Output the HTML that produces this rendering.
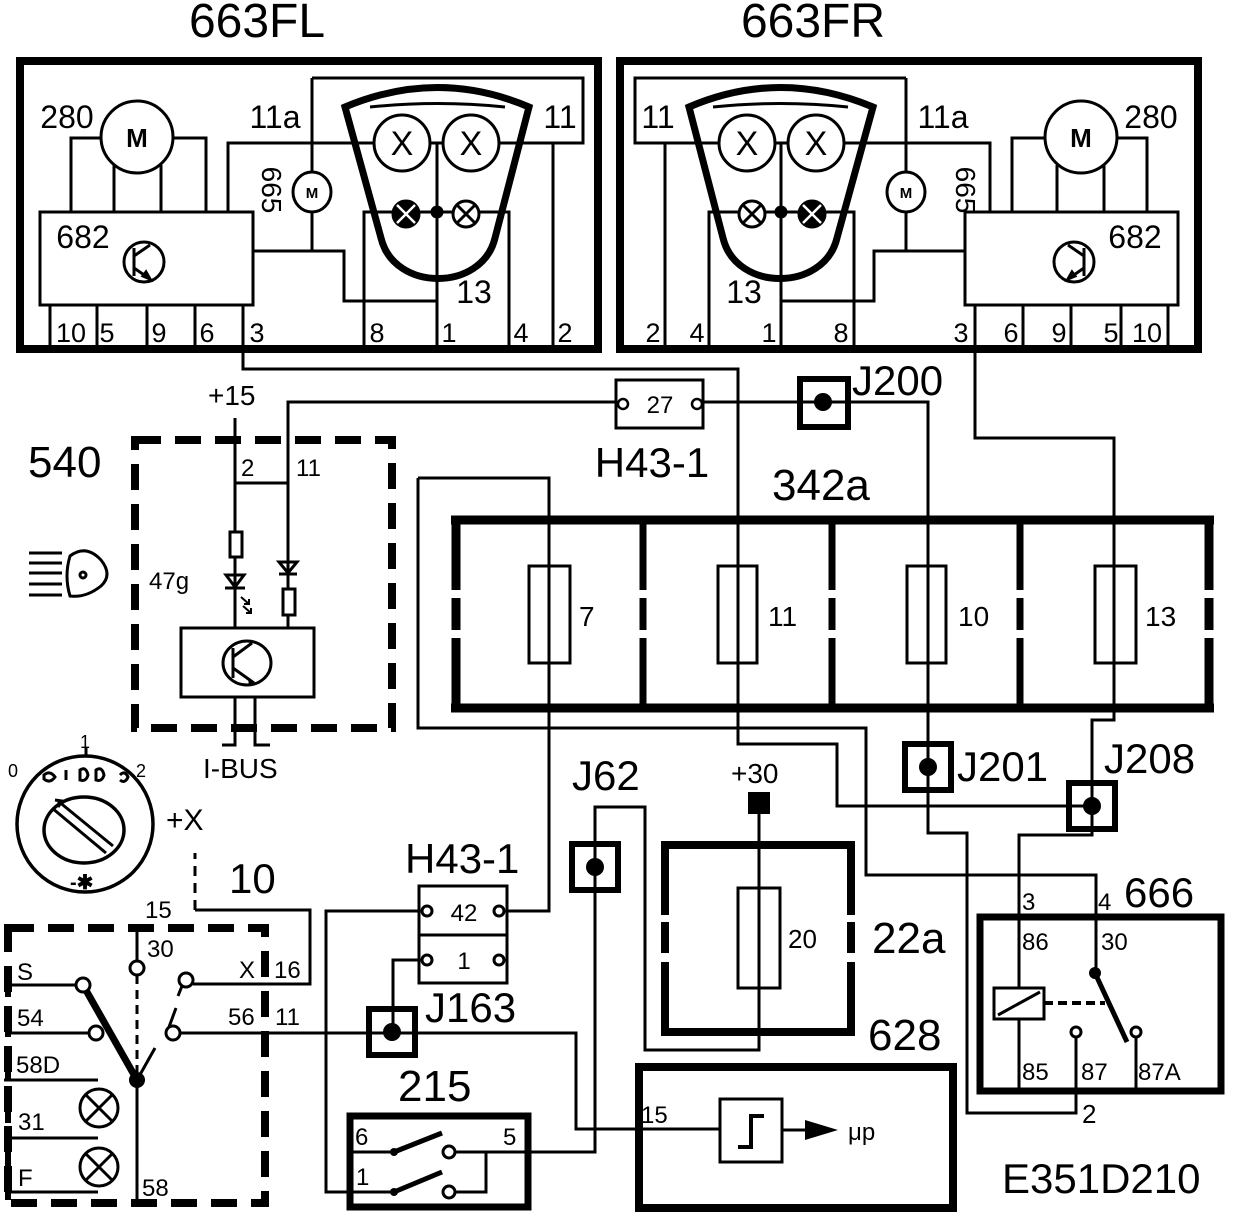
<!DOCTYPE html>
<html><head><meta charset="utf-8"><style>
html,body{margin:0;padding:0;background:#fff;}
svg{display:block;}
text{font-family:"Liberation Sans",Arial,sans-serif;fill:#000;}
</style></head><body>
<svg width="1248" height="1220" viewBox="0 0 1248 1220" xmlns="http://www.w3.org/2000/svg">
<defs>
<g id="fl" fill="none" stroke="#000" stroke-width="3">
  <rect x="20" y="61" width="578" height="288" stroke-width="8"/>
  <path d="M101,138H71V212M173,138H206V212M114,165V212M161,165V212"/>
  <circle cx="137" cy="137" r="36" fill="#fff"/>
  <rect x="40" y="212" width="213" height="93" fill="#fff"/>
  <circle cx="144" cy="262" r="20"/>
  <path d="M134,248V276M134,256L150,245M134,268L150,279"/>
  <path d="M143,276L150,279L146,272Z" fill="#000"/>
  <path d="M50,305V349M97,305V349M147,305V349M195,305V349M243,305V349"/>
  <path d="M312,78H583V143H519M312,78V172M312,212V251M253,251H344V301H437M228,212V143H560M437,143V349M553,143V349"/>
  <ellipse cx="312" cy="192" rx="19" ry="20" fill="#fff"/>
  <path d="M364,349V212H509V349"/>
  <path d="M345,107Q438,68 529,107L495,238C482,292 394,292 381,238Z" stroke-width="7"/>
  <path d="M370,107Q438,100 505,107"/>
  <circle cx="402" cy="143" r="28" fill="#fff"/>
  <circle cx="471" cy="143" r="28" fill="#fff"/>
  <circle cx="406" cy="214" r="13" fill="#000"/>
  <path d="M397,205L415,223M415,205L397,223" stroke="#fff" stroke-width="2.5"/>
  <circle cx="466" cy="214" r="13" fill="#fff"/>
  <path d="M457,205L475,223M475,205L457,223"/>
  <circle cx="437" cy="212" r="5" fill="#000"/>
</g>
</defs>

<use href="#fl"/>
<use href="#fl" transform="translate(1218,0) scale(-1,1)"/>

<!-- FL/FR texts -->
<g font-size="48" text-anchor="middle">
<text x="257" y="37">663FL</text><text x="813" y="37">663FR</text>
</g>
<g font-size="32" text-anchor="middle">
<text x="67" y="128">280</text><text x="1151" y="128">280</text>
<text x="275" y="128">11a</text><text x="943" y="128">11a</text>
<text x="560" y="128">11</text><text x="658" y="128">11</text>
<text x="83" y="248">682</text><text x="1135" y="248">682</text>
<text x="474" y="303">13</text><text x="744" y="303">13</text>
</g>
<g font-size="26" text-anchor="middle" font-weight="bold">
<text x="137" y="147">M</text><text x="1081" y="147">M</text>
</g>
<g font-size="15" text-anchor="middle" font-weight="bold">
<text x="312" y="198">M</text><text x="906" y="198">M</text>
</g>
<g font-size="34" text-anchor="middle">
<text x="402" y="155">X</text><text x="471" y="155">X</text>
<text x="816" y="155">X</text><text x="747" y="155">X</text>
</g>
<text font-size="28" text-anchor="middle" transform="translate(262,190) rotate(90)">665</text>
<text font-size="28" text-anchor="middle" transform="translate(956,190) rotate(90)">665</text>
<g font-size="27" text-anchor="middle">
<text x="71" y="342">10</text><text x="107" y="342">5</text><text x="159" y="342">9</text><text x="207" y="342">6</text><text x="257" y="342">3</text>
<text x="377" y="342">8</text><text x="449" y="342">1</text><text x="521" y="342">4</text><text x="565" y="342">2</text>
<text x="1147" y="342">10</text><text x="1111" y="342">5</text><text x="1059" y="342">9</text><text x="1011" y="342">6</text><text x="961" y="342">3</text>
<text x="841" y="342">8</text><text x="769" y="342">1</text><text x="697" y="342">4</text><text x="653" y="342">2</text>
</g>

<!-- wires -->
<g fill="none" stroke="#000" stroke-width="3">
<path d="M243,349V369H738V744H837V806H1092"/>
<path d="M975,349V438H1114V720H1092V835H1019V988M1019,1019V1091"/>
<path d="M235,418V628M288,628V402H928V833H967V1113H1076V1037"/>
<path d="M235,483H288"/>
<path d="M418,478H549V911H504"/>
<path d="M418,478V728H866V875H1096V973"/>
<path d="M759,814V1050H645V807H595V1152H455"/>
<path d="M180,1033H576V1129H720"/>
<path d="M422,911H326V1192H394"/>
<path d="M422,960H393V1032"/>
<path d="M193,984H310V910H195"/>
<path d="M195,910V853" stroke-dasharray="10,7"/>
</g>

<!-- H43-1 27 -->
<rect x="616" y="380" width="87" height="48" fill="#fff" stroke="#000" stroke-width="3"/>
<circle cx="623" cy="404" r="5" fill="#fff" stroke="#000" stroke-width="2.5"/>
<circle cx="697" cy="404" r="5" fill="#fff" stroke="#000" stroke-width="2.5"/>
<text x="660" y="413" font-size="24" text-anchor="middle">27</text>
<text x="652" y="477" font-size="42" text-anchor="middle">H43-1</text>

<!-- J boxes -->
<g fill="none" stroke="#000" stroke-width="6">
<rect x="800" y="379" width="48" height="48"/>
<rect x="905" y="744" width="46" height="46"/>
<rect x="1069" y="783" width="46" height="46"/>
<rect x="572" y="844" width="46" height="46"/>
<rect x="369" y="1009" width="46" height="46"/>
</g>
<g fill="#000">
<circle cx="823" cy="402" r="9"/><circle cx="928" cy="767" r="9"/><circle cx="1092" cy="806" r="9"/>
<circle cx="595" cy="867" r="9"/><circle cx="392" cy="1032" r="9"/>
</g>
<g font-size="42">
<text x="852" y="395">J200</text><text x="957" y="781">J201</text><text x="1104" y="773">J208</text>
<text x="572" y="790">J62</text><text x="425" y="1022">J163</text>
</g>

<!-- 342a fuse box -->
<text x="772" y="500" font-size="44">342a</text>
<g fill="none" stroke="#000">
<path d="M451,520H1214M451,708H1214" stroke-width="9"/>
<path d="M456,516V590M456,598V630M456,638V712M1209,516V590M1209,598V630M1209,638V712" stroke-width="9"/>
<path d="M643,516V590M643,598V630M643,638V712M832,516V590M832,598V630M832,638V712M1020,516V590M1020,598V630M1020,638V712" stroke-width="7"/>
<g stroke-width="3">
<rect x="529" y="566" width="41" height="97"/><rect x="718" y="566" width="39" height="97"/>
<rect x="907" y="566" width="39" height="97"/><rect x="1095" y="566" width="41" height="97"/>
</g>
</g>
<g font-size="28"><text x="579" y="626">7</text><text x="768" y="626">11</text><text x="958" y="626">10</text><text x="1145" y="626">13</text></g>

<!-- 540 -->
<text x="28" y="477" font-size="44">540</text>
<rect x="135" y="440" width="257" height="288" fill="none" stroke="#000" stroke-width="8" stroke-dasharray="26,14"/>
<text x="208" y="405" font-size="28">+15</text>
<g font-size="24"><text x="241" y="476">2</text><text x="296" y="476">11</text><text x="149" y="589">47g</text></g>
<g fill="none" stroke="#000" stroke-width="3">
<rect x="230" y="532" width="12" height="25" fill="#fff"/>
<path d="M226,575H244L235,587ZM225,588H245" />
<path d="M241,597L249,604M244,604L249,604L249,599M243,606L251,613M246,613L251,613L251,608" stroke-width="2"/>
<path d="M279,562H297L288,573ZM279,574H297"/>
<rect x="283" y="589" width="12" height="26" fill="#fff"/>
<rect x="181" y="628" width="133" height="69"/>
<ellipse cx="247" cy="663" rx="24" ry="22"/>
<path d="M233,648V678M233,657L252,643M233,668L254,683"/>
<path d="M235,697V745H222M255,697V745H270"/>
<path d="M29,553H62M29,563H62M29,573H62M29,584H62M29,595H62"/>
<path d="M70,556Q86,544 101,560Q113,575 101,586Q86,598 70,596Q64,576 70,556Z"/>
<circle cx="83" cy="575" r="3"/>
</g>
<path d="M248,678L256,685L249,686Z" fill="#000"/>
<text x="203" y="778" font-size="28">I-BUS</text>

<!-- light switch -->
<g fill="none" stroke="#000" stroke-width="3.5">
<circle cx="85" cy="824" r="68"/>
<ellipse cx="84" cy="830" rx="40" ry="33"/>
<path d="M58,801L113,846M52,808L106,853M55,800L62,801L58,807" stroke-width="3"/>
<path d="M86,748V756" stroke-width="3"/>
<path d="M44,775Q50,770 55,777Q50,784 44,779ZM66,770V780M80,770Q86,766 88,775Q86,782 80,780ZM96,770Q102,766 104,775Q102,782 96,780ZM120,775Q125,770 128,777Q125,784 120,780" stroke-width="3"/>
</g>
<g font-size="18"><text x="8" y="777">0</text><text x="80" y="748">1</text><text x="136" y="777">2</text></g>
<text x="70" y="889" font-size="20" font-weight="bold">-✱</text>
<text x="166" y="830" font-size="30">+X</text>
<text x="229" y="893" font-size="42">10</text>

<!-- ignition switch -->
<rect x="8" y="928" width="257" height="275" fill="none" stroke="#000" stroke-width="8" stroke-dasharray="26,14"/>
<g fill="none" stroke="#000" stroke-width="3">
<path d="M137,928V961"/>
<path d="M137,975V1072" stroke-dasharray="9,6"/>
<path d="M137,1080V1203M137,1080L155,1048"/>
<path d="M8,985H76M8,1033H89M4,1080H98M8,1138H98M8,1192H98"/>
<path d="M8,968V997M8,1010V1037M8,1057V1080M8,1098V1123M8,1140V1200" stroke-width="6"/>
<circle cx="99" cy="1108" r="19"/><path d="M86,1095L112,1121M112,1095L86,1121"/>
<circle cx="99" cy="1167" r="19"/><path d="M86,1154L112,1180M112,1154L86,1180"/>
<path d="M83,985L137,1080" stroke-width="7"/>
<circle cx="137" cy="968" r="7" fill="#fff"/>
<circle cx="83" cy="985" r="7" fill="#fff"/>
<circle cx="96" cy="1033" r="7" fill="#fff"/>
<circle cx="186" cy="980" r="7" fill="#fff"/>
<circle cx="173" cy="1033" r="7" fill="#fff"/>
<path d="M169,1027L176,1008M182,986L178,996"/>
</g>
<circle cx="137" cy="1080" r="8" fill="#000"/>
<g font-size="24">
<text x="145" y="918">15</text><text x="147" y="957">30</text><text x="17" y="980">S</text><text x="17" y="1026">54</text>
<text x="16" y="1073">58D</text><text x="18" y="1130">31</text><text x="18" y="1186">F</text><text x="142" y="1196">58</text>
<text x="239" y="978">X</text><text x="274" y="978">16</text><text x="228" y="1025">56</text><text x="275" y="1025">11</text>
</g>

<!-- H43-1 42/1 -->
<text x="405" y="873" font-size="42">H43-1</text>
<g fill="none" stroke="#000" stroke-width="3">
<rect x="419" y="886" width="88" height="97" fill="#fff"/>
<path d="M419,935H507"/>
<circle cx="427" cy="911" r="5"/><circle cx="499" cy="911" r="5"/>
<circle cx="427" cy="960" r="5"/><circle cx="499" cy="960" r="5"/>
</g>
<text x="464" y="921" font-size="24" text-anchor="middle">42</text>
<text x="464" y="969" font-size="24" text-anchor="middle">1</text>

<!-- 215 -->
<text x="398" y="1101" font-size="44">215</text>
<g fill="none" stroke="#000" stroke-width="3">
<rect x="350" y="1116" width="178" height="91" stroke-width="7"/>
<path d="M350,1152H394M455,1152H531M455,1192H486V1152"/>
<path d="M394,1152L442,1133M394,1192L442,1172" stroke-width="5"/>
<circle cx="449" cy="1152" r="6" fill="#fff"/><circle cx="449" cy="1192" r="6" fill="#fff"/>
</g>
<circle cx="394" cy="1152" r="4"/><circle cx="394" cy="1192" r="4"/>
<g font-size="24"><text x="355" y="1145">6</text><text x="503" y="1145">5</text><text x="356" y="1185">1</text></g>

<!-- 22a -->
<text x="731" y="783" font-size="28">+30</text>
<rect x="748" y="792" width="22" height="22" fill="#000"/>
<g fill="none" stroke="#000" stroke-width="8">
<path d="M661,845H855M661,1032H855"/>
<path d="M665,841V915M665,922V953M665,962V1036M851,841V915M851,922V953M851,962V1036"/>
</g>
<rect x="738" y="888" width="42" height="100" fill="none" stroke="#000" stroke-width="3"/>
<text x="788" y="948" font-size="26">20</text>
<text x="872" y="953" font-size="44">22a</text>

<!-- 628 -->
<text x="868" y="1050" font-size="44">628</text>
<rect x="639" y="1067" width="314" height="141" fill="none" stroke="#000" stroke-width="8"/>
<text x="641" y="1123" font-size="24">15</text>
<g fill="none" stroke="#000" stroke-width="3">
<rect x="720" y="1099" width="62" height="63"/>
<path d="M738,1147H751V1116H764" stroke-width="4"/>
<path d="M782,1130H806"/>
</g>
<path d="M805,1120L838,1130L805,1140Z" fill="#000"/>
<text x="848" y="1140" font-size="24">μp</text>

<!-- 666 relay -->
<text x="1124" y="907" font-size="42">666</text>
<g font-size="24"><text x="1022" y="910">3</text><text x="1098" y="910">4</text>
<text x="1022" y="950">86</text><text x="1101" y="950">30</text>
<text x="1022" y="1080">85</text><text x="1081" y="1080">87</text><text x="1138" y="1080">87A</text></g>
<g fill="none" stroke="#000" stroke-width="3">
<rect x="980" y="917" width="241" height="174" stroke-width="7"/>
<rect x="994" y="988" width="50" height="31" fill="#fff"/>
<path d="M998,1015L1040,992"/>
<path d="M1044,1003H1105" stroke-dasharray="9,5" stroke-width="4"/>
<path d="M1095,973L1127,1042" stroke-width="5"/>
<path d="M1076,1037V1091M1136,1037V1091"/>
<circle cx="1076" cy="1032" r="5" fill="#fff"/><circle cx="1136" cy="1032" r="5" fill="#fff"/>
</g>
<circle cx="1095" cy="973" r="6"/>
<text x="1082" y="1123" font-size="26">2</text>

<text x="1002" y="1193" font-size="42">E351D210</text>
</svg>
</body></html>
